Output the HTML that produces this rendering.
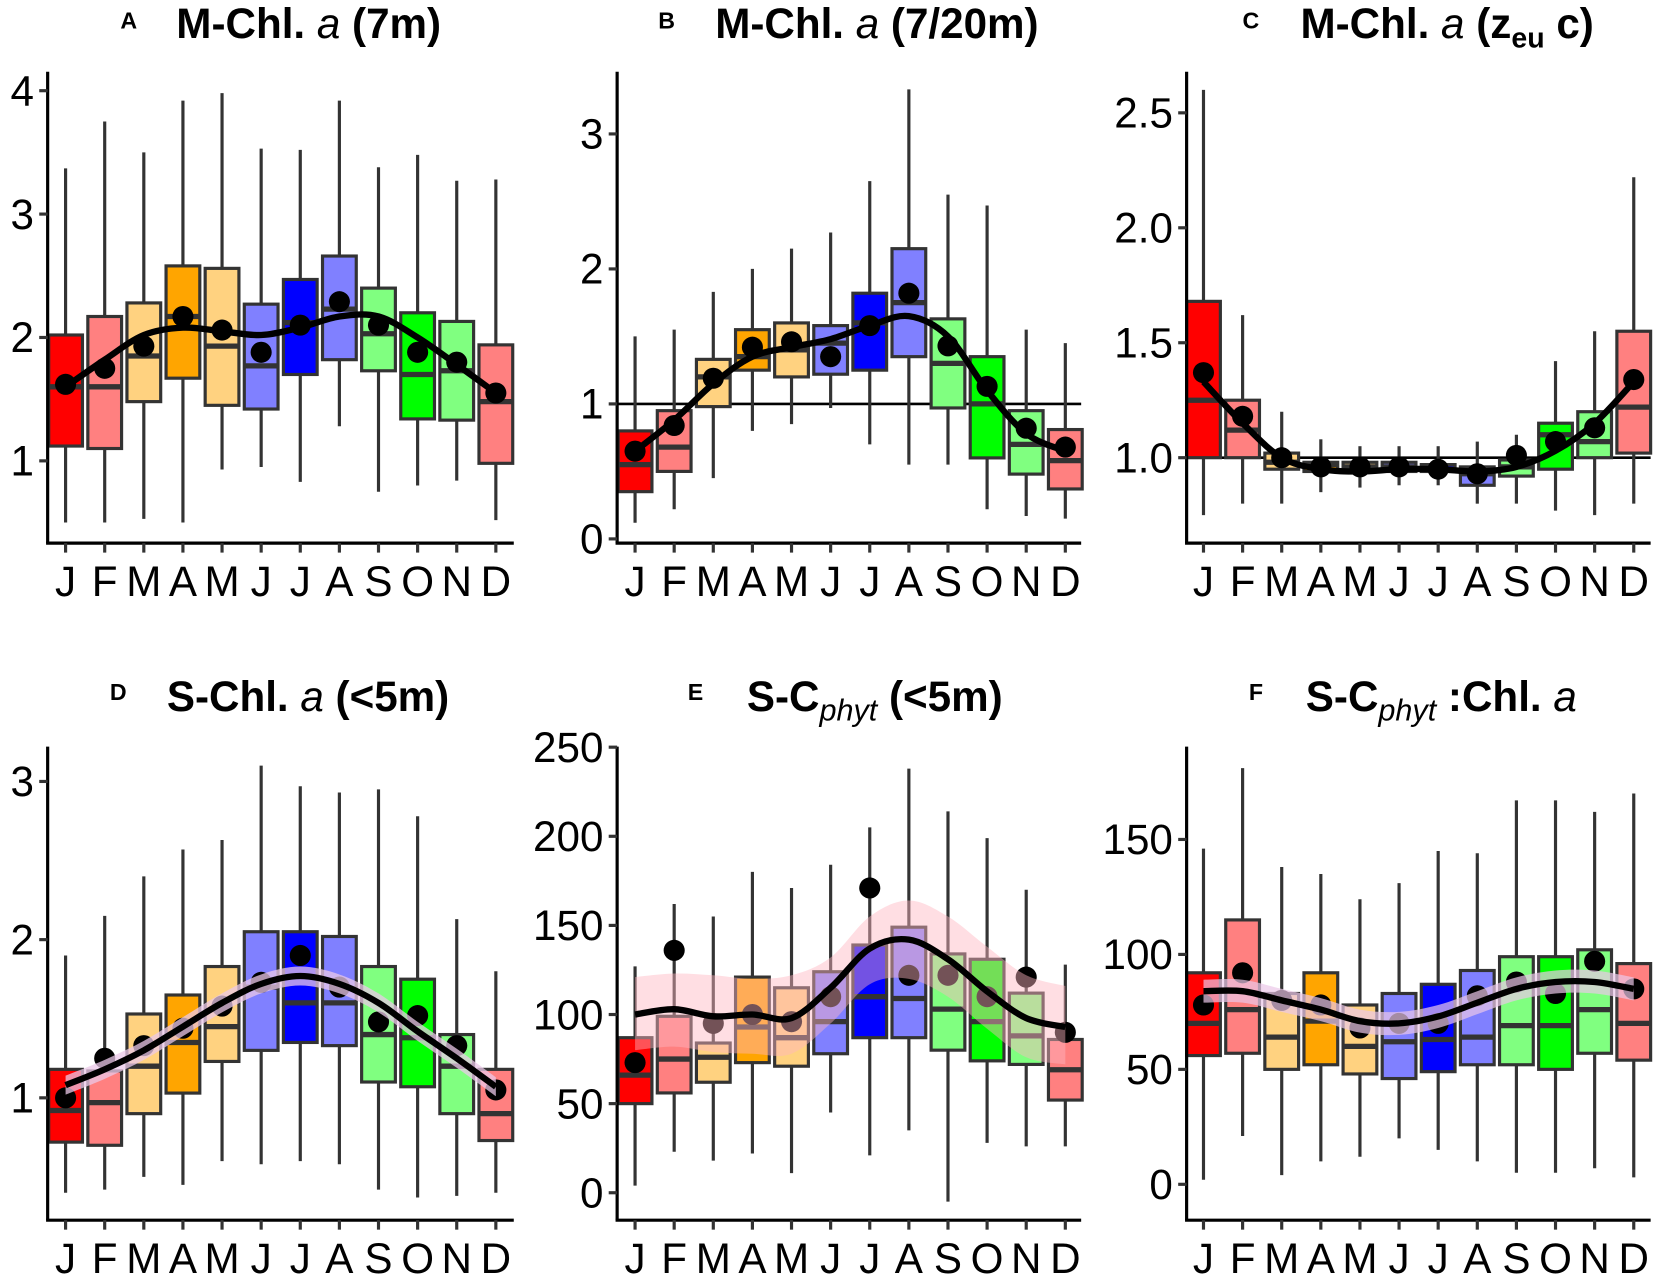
<!DOCTYPE html>
<html><head><meta charset="utf-8">
<style>
body{margin:0;background:#fff;}
svg{display:block;font-family:"Liberation Sans",Arial,sans-serif;}
</style></head>
<body>
<svg id="chart" width="1654" height="1275" viewBox="0 0 1568 1209" xmlns="http://www.w3.org/2000/svg">
<g id="titles">
 <g font-weight="bold">
  <text x="114" y="27" font-size="22">A</text>
  <text x="167" y="36" font-size="40">M-Chl. <tspan font-style="italic" font-weight="normal">a</tspan> (7m)</text>
 </g>
 <g font-weight="bold">
  <text x="624" y="27" font-size="22">B</text>
  <text x="678" y="36" font-size="40">M-Chl. <tspan font-style="italic" font-weight="normal">a</tspan> (7/20m)</text>
 </g>
 <g font-weight="bold">
  <text x="1178" y="27" font-size="22">C</text>
  <text x="1233" y="36" font-size="40">M-Chl. <tspan font-style="italic" font-weight="normal">a</tspan> (z<tspan font-size="27" dy="9">eu</tspan><tspan dy="-9"> c)</tspan></text>
 </g>
 <g font-weight="bold">
  <text x="104" y="664" font-size="22">D</text>
  <text x="158" y="674" font-size="40">S-Chl. <tspan font-style="italic" font-weight="normal">a</tspan> (&lt;5m)</text>
 </g>
 <g font-weight="bold">
  <text x="652" y="664" font-size="22">E</text>
  <text x="708" y="674" font-size="40">S-C<tspan font-size="29" font-style="italic" font-weight="normal" dy="9">phyt</tspan><tspan dy="-9"> (&lt;5m)</tspan></text>
 </g>
 <g font-weight="bold">
  <text x="1184" y="664" font-size="22">F</text>
  <text x="1238" y="674" font-size="40">S-C<tspan font-size="29" font-style="italic" font-weight="normal" dy="9">phyt</tspan><tspan dy="-9"> :Chl. </tspan><tspan font-style="italic" font-weight="normal">a</tspan></text>
 </g>
</g>
</svg>
<script>
const months = ["J","F","M","A","M","J","J","A","S","O","N","D"];
const boxColors = ["#FF0000","#FF8080","#FFD280","#FFA500","#FFD280","#8080FF","#0000FF","#8080FF","#80FF80","#00FF00","#80FF80","#FF8080"];

// Panel A
const aLo   = [0.5,0.5,0.53,0.5,0.93,0.95,0.83,1.28,0.75,0.8,0.84,0.52];
const aQ1   = [1.12,1.1,1.48,1.67,1.45,1.42,1.7,1.82,1.73,1.34,1.33,0.98];
const aMed  = [1.6,1.6,1.85,2.17,1.93,1.77,2.12,2.23,2.03,1.7,1.73,1.48];
const aQ3   = [2.02,2.17,2.28,2.58,2.56,2.27,2.47,2.66,2.4,2.2,2.13,1.94];
const aHi   = [3.37,3.75,3.5,3.92,3.98,3.53,3.52,3.92,3.38,3.48,3.27,3.28];
const aMean = [1.62,1.75,1.93,2.17,2.06,1.88,2.1,2.29,2.1,1.88,1.8,1.55];
const aFit  = [1.6,1.82,2.02,2.08,2.05,2.02,2.08,2.17,2.17,2.0,1.78,1.55];
const aTicks = [1,2,3,4];

// Panel B
const bLo   = [0.12,0.22,0.45,0.8,0.85,0.97,0.7,0.55,0.55,0.22,0.17,0.15];
const bQ1   = [0.35,0.5,0.98,1.25,1.2,1.22,1.25,1.35,0.97,0.6,0.48,0.37];
const bMed  = [0.55,0.68,1.2,1.35,1.4,1.45,1.6,1.75,1.3,1.0,0.7,0.58];
const bQ3   = [0.8,0.95,1.33,1.55,1.6,1.58,1.82,2.15,1.63,1.35,0.95,0.81];
const bHi   = [1.5,1.55,1.83,2.0,2.15,2.27,2.65,3.33,2.55,2.47,1.55,1.45];
const bMean = [0.65,0.84,1.19,1.42,1.46,1.35,1.58,1.82,1.43,1.13,0.82,0.68];
const bFit  = [0.65,0.88,1.15,1.35,1.42,1.48,1.58,1.65,1.5,1.1,0.78,0.65];
const bTicks = [0,1,2,3];

// Panel C
const cLo   = [0.75,0.8,0.8,0.85,0.87,0.88,0.88,0.8,0.8,0.77,0.75,0.8];
const cQ1   = [1.0,1.0,0.95,0.94,0.94,0.94,0.94,0.88,0.92,0.95,1.0,1.02];
const cMed  = [1.25,1.12,0.98,0.97,0.96,0.96,0.95,0.93,0.96,1.1,1.07,1.22];
const cQ3   = [1.68,1.25,1.02,0.98,0.98,0.98,0.97,0.96,0.99,1.15,1.2,1.55];
const cHi   = [2.6,1.62,1.2,1.08,1.05,1.05,1.05,1.07,1.1,1.42,1.55,2.22];
const cMean = [1.37,1.18,1.0,0.96,0.96,0.96,0.95,0.93,1.01,1.07,1.13,1.34];
const cFit  = [1.33,1.15,1.0,0.95,0.94,0.95,0.95,0.94,0.96,1.03,1.15,1.33];
const cTicks = [1.0,1.5,2.0,2.5];

// Panel D
const dLo   = [0.4,0.42,0.5,0.45,0.6,0.58,0.6,0.58,0.42,0.37,0.38,0.4];
const dQ1   = [0.72,0.7,0.9,1.03,1.23,1.3,1.35,1.33,1.1,1.07,0.9,0.73];
const dMed  = [0.92,0.97,1.2,1.35,1.45,1.7,1.6,1.6,1.4,1.38,1.2,0.9];
const dQ3   = [1.18,1.17,1.53,1.65,1.83,2.05,2.05,2.02,1.83,1.75,1.4,1.18];
const dHi   = [1.9,2.15,2.4,2.57,2.63,3.1,2.97,2.93,2.95,2.78,2.13,1.8];
const dMean = [1.0,1.25,1.33,1.44,1.58,1.73,1.9,1.7,1.48,1.52,1.33,1.05];
const dFit  = [1.08,1.18,1.3,1.45,1.6,1.72,1.77,1.72,1.6,1.42,1.25,1.07];
const dRibLo = [1.02,1.12,1.24,1.39,1.54,1.66,1.71,1.66,1.54,1.36,1.19,1.01];
const dRibHi = [1.14,1.24,1.36,1.51,1.66,1.78,1.83,1.78,1.66,1.48,1.31,1.13];
const dTicks = [1,2,3];

// Panel E
const eLo   = [4,23,18,22,11,45,21,35,-5,28,26,26];
const eQ1   = [50,56,62,73,71,78,87,87,80,74,72,52];
const eMed  = [66,75,76,93,87,96,110,109,103,96,88,69];
const eQ3   = [87,99,84,121,115,124,139,149,134,131,112,86];
const eHi   = [127,162,155,180,171,184,205,238,214,199,170,128];
const eMean = [73,136,95,100,96,110,171,122,122,110,121,90];
const eFit  = [100,103,99,100,98,115,137,142,131,113,98,93];
const eRibLo = [80,82,79,78,78,95,117,120,110,92,76,72];
const eRibHi = [121,123,122,120,122,132,155,164,155,138,122,116];
const eTicks = [0,50,100,150,200,250];

// Panel F
const fLo   = [2,21,4,10,12,20,15,10,5,5,7,3];
const fQ1   = [56,57,50,52,48,46,49,52,52,50,57,54];
const fMed  = [70,76,64,71,60,62,63,64,69,69,76,70];
const fQ3   = [92,115,83,92,78,83,87,93,99,99,102,96];
const fHi   = [146,181,138,135,124,131,145,144,167,167,162,170];
const fMean = [78,92,80,78,68,70,70,82,88,83,97,85];
const fFit  = [84,84,80,76,71,70,73,79,85,88,88,85];
const fRibLo = [79,79,75,71,66,65,68,74,80,83,83,80];
const fRibHi = [89,89,85,81,76,75,78,84,90,93,93,90];
const fTicks = [0,50,100,150];

const NS = "http://www.w3.org/2000/svg";
const svg = document.getElementById("chart");
function mk(tag, attrs, parent){
  const e = document.createElementNS(NS, tag);
  for (const k in attrs) e.setAttribute(k, attrs[k]);
  (parent||svg).appendChild(e);
  return e;
}
function smoothPath(pts){
  let d = "M"+pts[0][0]+","+pts[0][1];
  for (let i=0;i<pts.length-1;i++){
    const p0=pts[Math.max(i-1,0)], p1=pts[i], p2=pts[i+1], p3=pts[Math.min(i+2,pts.length-1)];
    const c1x=p1[0]+(p2[0]-p0[0])/6, c1y=p1[1]+(p2[1]-p0[1])/6;
    const c2x=p2[0]-(p3[0]-p1[0])/6, c2y=p2[1]-(p3[1]-p1[1])/6;
    d+=" C"+c1x+","+c1y+" "+c2x+","+c2y+" "+p2[0]+","+p2[1];
  }
  return d;
}

const panels = [
 {id:"a", ax:45, x0:62, top:68, bot:515, right:487, yRef:2, yPix:320, ppu:117, ticks:aTicks, fmt:v=>String(v), lo:aLo,q1:aQ1,med:aMed,q3:aQ3,hi:aHi,mean:aMean,fit:aFit, ref:null},
 {id:"b", ax:585, x0:602, top:68, bot:515, right:1025, yRef:0, yPix:511, ppu:128, ticks:bTicks, fmt:v=>String(v), lo:bLo,q1:bQ1,med:bMed,q3:bQ3,hi:bHi,mean:bMean,fit:bFit, ref:1},
 {id:"c", ax:1125, x0:1141, top:68, bot:515, right:1565, yRef:1, yPix:434, ppu:218, ticks:cTicks, fmt:v=>v.toFixed(1), lo:cLo,q1:cQ1,med:cMed,q3:cQ3,hi:cHi,mean:cMean,fit:cFit, ref:1},
 {id:"d", ax:45, x0:62, top:708, bot:1157, right:487, yRef:1, yPix:1041, ppu:150, ticks:dTicks, fmt:v=>String(v), lo:dLo,q1:dQ1,med:dMed,q3:dQ3,hi:dHi,mean:dMean,fit:dFit, ribLo:dRibLo, ribHi:dRibHi, rib:"#EBC8E8", ribOp:0.75, ref:null},
 {id:"e", ax:585, x0:602, top:708, bot:1157, right:1025, yRef:0, yPix:1131, ppu:1.69, ticks:eTicks, fmt:v=>String(v), lo:eLo,q1:eQ1,med:eMed,q3:eQ3,hi:eHi,mean:eMean,fit:eFit, ribLo:eRibLo, ribHi:eRibHi, rib:"#FFB6C1", ribOp:0.45, ref:null},
 {id:"f", ax:1125, x0:1141, top:708, bot:1157, right:1565, yRef:0, yPix:1123, ppu:2.18, ticks:fTicks, fmt:v=>String(v), lo:fLo,q1:fQ1,med:fMed,q3:fQ3,hi:fHi,mean:fMean,fit:fFit, ribLo:fRibLo, ribHi:fRibHi, rib:"#EBC8E8", ribOp:0.7, ref:null}
];
const step = 37.09, bw = 32;

panels.forEach(p=>{
  const g = mk("g",{});
  
  
  const y = v => p.yPix - (v - p.yRef)*p.ppu;
  const x = i => p.x0 + i*step;

  if (p.ref !== null){
    const rl = mk("line",{x1:p.ax,x2:p.right,y1:y(p.ref),y2:y(p.ref),stroke:"#000","stroke-width":2.5},g);
    
    
  }
  months.forEach((m,i)=>{
    const bg = mk("g",{},g);
    
    
    mk("line",{x1:x(i),x2:x(i),y1:y(p.hi[i]),y2:y(p.lo[i]),stroke:"#333","stroke-width":3},bg);
    mk("rect",{x:x(i)-bw/2,y:y(p.q3[i]),width:bw,height:y(p.q1[i])-y(p.q3[i]),fill:boxColors[i],stroke:"#333","stroke-width":3},bg);
    mk("line",{x1:x(i)-bw/2,x2:x(i)+bw/2,y1:y(p.med[i]),y2:y(p.med[i]),stroke:"#333","stroke-width":5},bg);
  });
  p.mean.forEach((v,i)=>{
    const c = mk("circle",{cx:x(i),cy:y(v),r:10,fill:"#000"},g);
    
    
  });
  if (p.ribLo){
    const up = p.ribHi.map((v,i)=>[x(i),y(v)]);
    const dn = p.ribLo.map((v,i)=>[x(i),y(v)]).reverse();
    const dnP = smoothPath(dn);
    const d = smoothPath(up) + " L" + dn[0][0]+","+dn[0][1] + dnP.slice(dnP.indexOf(" C")) + " Z";
    const rb = mk("path",{d:d,fill:p.rib,"fill-opacity":p.ribOp,stroke:"none"},g);
    
    
  }
  const fl = mk("path",{d:smoothPath(p.fit.map((v,i)=>[x(i),y(v)])),fill:"none",stroke:"#000","stroke-width":6},g);
  
  

  const ya = mk("line",{x1:p.ax,x2:p.ax,y1:p.top,y2:p.bot,stroke:"#000","stroke-width":3},g);
  
  
  const xa = mk("line",{x1:p.ax-1.5,x2:p.right,y1:p.bot,y2:p.bot,stroke:"#000","stroke-width":3},g);
  
  
  p.ticks.forEach(t=>{
    mk("line",{x1:p.ax-8,x2:p.ax,y1:y(t),y2:y(t),stroke:"#333","stroke-width":3},g);
    const tl = mk("text",{x:p.ax-13,y:y(t)+14,"font-size":40,"text-anchor":"end",fill:"#000"},g);
    tl.textContent = p.fmt(t);
    
    
  });
  months.forEach((m,i)=>{
    mk("line",{x1:x(i),x2:x(i),y1:p.bot,y2:p.bot+9,stroke:"#333","stroke-width":3},g);
    const ml = mk("text",{x:x(i),y:p.bot+50,"font-size":40,"text-anchor":"middle",fill:"#000"},g);
    ml.textContent = m;
    
    
  });
});
</script>
</body></html>
